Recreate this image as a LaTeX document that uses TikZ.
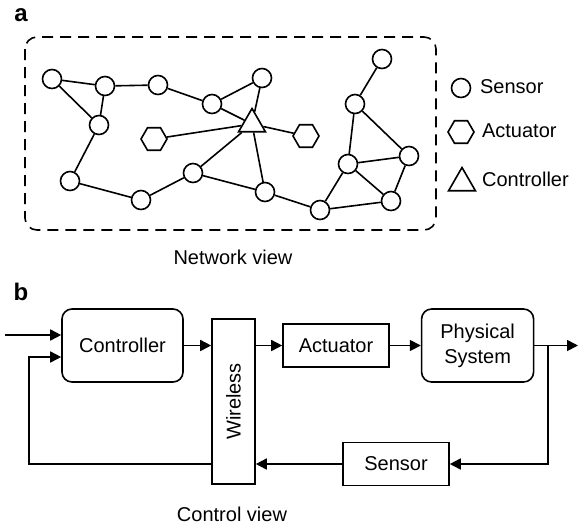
\documentclass[tikz,border=0pt]{standalone}
\usepackage{fontspec}
\setmainfont{Liberation Sans}
\usetikzlibrary{positioning, arrows.meta, shapes.geometric}
\tikzstyle{sensor} = [circle, draw, thick, fill=white, inner sep=0pt, minimum size=9.5pt]
\tikzstyle{actor} = [regular polygon, regular polygon sides=6,
draw, thick, fill=white, inner sep=0pt, minimum size=13pt]
\tikzstyle{ctrl} = [regular polygon, regular polygon sides=3, draw, thick, fill=white,
inner sep=0pt, minimum size=15.5pt]
\tikzstyle{link} = [thick]
\tikzstyle{block} = [rectangle, draw, thick, align=center, minimum width=53pt, minimum height=21.5pt]
\tikzstyle{rblock} = [rectangle, draw, thick, align=center, rounded corners=5pt,
minimum width=60.5pt, minimum height=36.5pt]
\tikzstyle{arrow} = [thick,-{Triangle[length=5.5pt,width=5.5pt]}]

\begin{document}
\begin{tikzpicture}[x=0.5pt, y=-0.5pt, node distance=15.5pt]
    \tikzstyle{every node}=[font=\fontsize{10}{12.5}\selectfont]
    \useasboundingbox (0,0) rectangle (578,526);

    % network view
    \node (TagA) at (21,15) {\fontsize{12}{12}\selectfont\bfseries a};
    \draw [thick, rounded corners=6pt, dash pattern=on 5.5pt off 3.5pt] (25,37) rectangle (436,230);

    \node (S1) [sensor] at (52,79) {};
    \node (S2) [sensor] at (105,86) {};
    \node (S3) [sensor] at (158,85) {};
    \node (S4) [sensor] at (212,104) {};
    \node (S5) [sensor] at (262,78) {};
    \node (S6) [sensor] at (99,125) {};
    \node (S7) [sensor] at (70,181) {};
    \node (S8) [sensor] at (141,200) {};
    \node (S9) [sensor] at (193,173) {};
    \node (S10) [sensor] at (265,192) {};
    \node (S11) [sensor] at (382,59) {};
    \node (S12) [sensor] at (355,104) {};
    \node (S13) [sensor] at (409,156) {};
    \node (S14) [sensor] at (348,164) {};
    \node (S15) [sensor] at (391,201) {};
    \node (S16) [sensor] at (320,210) {};
    \node (A1) [actor] at (154,139) {};
    \node (A2) [actor] at (306,136) {};
    \node (C) [ctrl] at (252,124) {};

    \draw [link] (S1) -- (S2);  \draw [link] (S1) -- (S6);  \draw [link] (S2) -- (S6);
    \draw [link] (S2) -- (S3);  \draw [link] (S3) -- (S4);  \draw [link] (S4) -- (S5);
    \draw [link] (S4) -- (C);   \draw [link] (S5) -- (C);   \draw [link] (C) -- (A1);
    \draw [link] (C) -- (A2);   \draw [link] (C) -- (S9);   \draw [link] (C) -- (S10);
    \draw [link] (S6) -- (S7);  \draw [link] (S7) -- (S8);  \draw [link] (S8) -- (S9);
    \draw [link] (S9) -- (S10); \draw [link] (S10) -- (S16); \draw [link] (S16) -- (S14);
    \draw [link] (S16) -- (S15); \draw [link] (S14) -- (S12); \draw [link] (S14) -- (S13);
    \draw [link] (S14) -- (S15); \draw [link] (S12) -- (S13); \draw [link] (S12) -- (S11);
    \draw [link] (S13) -- (S15);

    % legend
    \node (LS) [sensor] at (461,88) {};
    \node (LA) [actor] at (461,132) {};
    \node (LC) [ctrl] at (462,183) {};
    \node (LSt) [anchor=west] at (473,87) {Sensor};
    \node (LAt) [anchor=west] at (475,131) {Actuator};
    \node (LCt) [anchor=west] at (475,179) {Controller};

    \node (NetView) at (233,257) {Network view};

    % control view
    \node (TagB) at (21,292) {\fontsize{12}{12}\selectfont\bfseries b};
    \node (Ctrl) [rblock] at (122.5,345.5) {Controller};
    \node (Wless) [block, minimum width=21.5pt, minimum height=82.5pt] at (233.5,401.5) {\rotatebox{90}{Wireless}};
    \node (Act) [block] at (336,345.5) {Actuator};
    \node (Phys) [rblock, minimum width=56pt, right=of Act] {Physical\\System};
    \node (Sensor) [block] at (396,464) {Sensor};
    \coordinate (In) at (5,335);
    \coordinate (Out) at (578,345.5);
    \coordinate (Split) at (548,345.5);
    \coordinate (Back) at (29,464);

    \draw [arrow] (In) -- (In -| Ctrl.west);
    \draw [arrow] (Ctrl) -- (Ctrl -| Wless.west);
    \draw [arrow] (Act -| Wless.east) -- (Act);
    \draw [arrow] (Act) -- (Phys);
    \draw [arrow] (Phys) -- (Out);
    \draw [arrow] (Split) |- (Sensor);
    \draw [arrow] (Sensor) -- (Sensor -| Wless.east);
    \draw [arrow] (Sensor -| Wless.west) -| (Back) |- ([yshift=-5.75pt]Ctrl.west);

    \node (CtrlView) at (232,514) {Control view};
\end{tikzpicture}
\end{document}
